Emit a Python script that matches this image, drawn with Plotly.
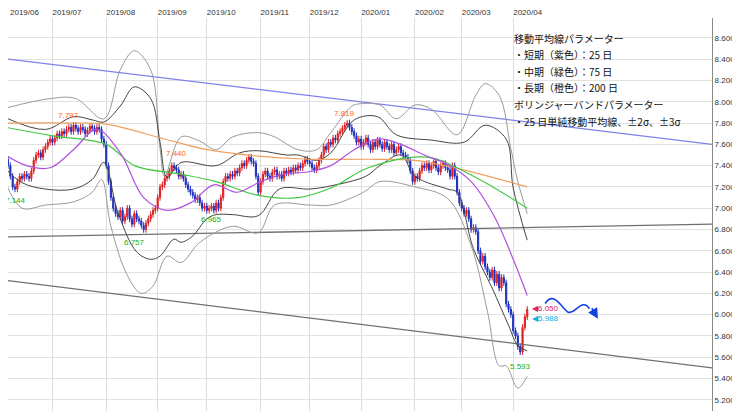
import pandas as pd
import plotly.graph_objects as go

# daily closes (one list per month)
close_jun = [7.46, 7.40, 7.30, 7.20, 7.18, 7.25, 7.30, 7.28, 7.32, 7.30, 7.28, 7.35, 7.45, 7.50, 7.52, 7.48, 7.55, 7.58, 7.62, 7.65]
close_jul = [7.62, 7.66, 7.70, 7.68, 7.72, 7.70, 7.74, 7.76, 7.72, 7.78, 7.75, 7.72, 7.76, 7.74, 7.70, 7.73, 7.77, 7.75, 7.72, 7.76, 7.74, 7.65, 7.60]
close_aug = [7.40, 7.25, 7.10, 7.00, 6.95, 6.92, 6.98, 6.88, 6.92, 7.00, 6.90, 6.85, 6.95, 6.90, 6.88, 6.84, 6.80, 6.86, 6.90, 6.94, 6.98, 7.00]
close_sep = [7.10, 7.20, 7.22, 7.28, 7.30, 7.35, 7.40, 7.38, 7.36, 7.30, 7.32, 7.28, 7.22, 7.18, 7.15, 7.12, 7.08, 7.10, 7.05, 7.00, 7.02]
close_oct = [6.98, 7.00, 7.02, 6.98, 7.05, 7.00, 7.10, 7.25, 7.30, 7.28, 7.32, 7.30, 7.35, 7.33, 7.38, 7.42, 7.40, 7.45, 7.48, 7.44, 7.42, 7.30, 7.15]
close_nov = [7.25, 7.32, 7.35, 7.30, 7.28, 7.34, 7.36, 7.30, 7.32, 7.28, 7.35, 7.33, 7.36, 7.34, 7.38, 7.36, 7.40, 7.38, 7.42, 7.46, 7.44]
close_dec = [7.42, 7.38, 7.36, 7.40, 7.45, 7.50, 7.58, 7.55, 7.62, 7.60, 7.66, 7.64, 7.70, 7.72, 7.75, 7.78, 7.80, 7.76, 7.72, 7.68, 7.62, 7.65]
close_jan = [7.58, 7.62, 7.66, 7.60, 7.55, 7.62, 7.58, 7.64, 7.60, 7.56, 7.62, 7.58, 7.55, 7.60, 7.52, 7.55, 7.58, 7.52, 7.50, 7.48, 7.45, 7.35, 7.25]
close_feb = [7.30, 7.28, 7.35, 7.40, 7.38, 7.42, 7.36, 7.40, 7.44, 7.38, 7.34, 7.40, 7.42, 7.38, 7.36, 7.30, 7.40, 7.30, 7.15, 7.05]
close_mar = [7.00, 6.95, 6.98, 6.90, 6.80, 6.82, 6.78, 6.60, 6.50, 6.55, 6.45, 6.40, 6.35, 6.42, 6.30, 6.38, 6.25, 6.35, 6.30, 6.10, 6.05, 6.00]
close_apr = [5.85, 5.80, 5.70, 5.65, 5.88, 5.98, 6.05]

# moving averages and bands (date, value)
ma25_dates = ["2019-06-03", "2019-06-14", "2019-06-28", "2019-07-12", "2019-07-26", "2019-08-09", "2019-08-23", "2019-09-06", "2019-09-20", "2019-10-04", "2019-10-18", "2019-11-01", "2019-11-15", "2019-11-29", "2019-12-13", "2019-12-27", "2020-01-10", "2020-01-24", "2020-02-07", "2020-02-21", "2020-03-06", "2020-03-20", "2020-04-01", "2020-04-09"]
ma25_vals = [7.50, 7.40, 7.38, 7.55, 7.74, 7.52, 7.10, 6.98, 7.05, 7.22, 7.15, 7.25, 7.32, 7.34, 7.40, 7.55, 7.65, 7.60, 7.50, 7.41, 7.25, 6.92, 6.52, 6.18]
ma75_dates = ["2019-06-03", "2019-07-01", "2019-08-01", "2019-08-19", "2019-09-16", "2019-10-07", "2019-10-31", "2019-11-25", "2019-12-16", "2020-01-06", "2020-02-10", "2020-03-09", "2020-04-09"]
ma75_vals = [7.76, 7.68, 7.60, 7.40, 7.32, 7.25, 7.12, 7.10, 7.20, 7.38, 7.48, 7.30, 7.00]
ma200_dates = ["2019-06-03", "2019-07-15", "2019-08-01", "2019-09-05", "2019-10-01", "2019-10-31", "2019-12-02", "2020-01-06", "2020-02-03", "2020-02-24", "2020-04-09"]
ma200_vals = [7.80, 7.80, 7.79, 7.65, 7.55, 7.49, 7.46, 7.46, 7.45, 7.39, 7.20]

up3_dates = ["2019-06-03", "2019-06-28", "2019-07-15", "2019-07-31", "2019-08-09", "2019-08-19", "2019-08-28", "2019-09-03", "2019-09-05", "2019-09-16", "2019-09-26", "2019-10-07", "2019-10-16", "2019-10-31", "2019-11-11", "2019-11-25", "2019-12-05", "2019-12-13", "2019-12-26", "2019-12-31", "2020-01-13", "2020-01-22", "2020-02-03", "2020-02-12", "2020-02-27", "2020-03-10", "2020-03-16", "2020-03-24", "2020-03-31", "2020-04-03", "2020-04-09"]
up3_vals = [7.94, 8.03, 8.03, 7.84, 8.30, 8.48, 8.30, 7.56, 7.30, 7.67, 7.63, 7.55, 7.67, 7.71, 7.67, 7.55, 7.55, 7.71, 7.96, 7.98, 7.97, 7.84, 7.97, 7.93, 7.69, 8.06, 8.17, 8.06, 7.56, 7.25, 6.95]
up2_dates = ["2019-06-03", "2019-06-26", "2019-07-12", "2019-07-24", "2019-07-31", "2019-08-09", "2019-08-19", "2019-08-28", "2019-09-03", "2019-09-06", "2019-09-16", "2019-10-07", "2019-10-21", "2019-10-31", "2019-11-18", "2019-11-25", "2019-12-05", "2019-12-13", "2019-12-27", "2020-01-10", "2020-01-22", "2020-02-12", "2020-03-03", "2020-03-16", "2020-03-27", "2020-04-01", "2020-04-09"]
up2_vals = [7.85, 7.74, 7.86, 7.83, 7.81, 7.96, 8.14, 8.03, 7.62, 7.29, 7.43, 7.40, 7.52, 7.54, 7.50, 7.50, 7.45, 7.52, 7.83, 7.86, 7.69, 7.64, 7.62, 7.78, 7.65, 7.19, 6.70]
lo2_dates = ["2019-06-03", "2019-06-12", "2019-06-26", "2019-07-12", "2019-07-24", "2019-07-31", "2019-08-08", "2019-08-20", "2019-08-28", "2019-09-03", "2019-09-11", "2019-09-16", "2019-09-23", "2019-10-01", "2019-10-07", "2019-10-16", "2019-10-31", "2019-11-13", "2019-12-02", "2019-12-13", "2020-01-03", "2020-01-13", "2020-01-24", "2020-02-03", "2020-02-21", "2020-02-27", "2020-03-09", "2020-03-19", "2020-03-30", "2020-04-03", "2020-04-09"]
lo2_vals = [7.37, 7.24, 7.18, 7.18, 7.27, 7.43, 6.96, 6.59, 6.52, 6.55, 6.71, 6.68, 6.74, 6.90, 6.94, 6.94, 6.93, 7.18, 7.18, 7.21, 7.30, 7.40, 7.50, 7.30, 7.18, 7.15, 6.62, 6.25, 5.90, 5.71, 5.66]
lo3_dates = ["2019-06-03", "2019-06-12", "2019-06-26", "2019-07-12", "2019-07-24", "2019-07-30", "2019-08-05", "2019-08-14", "2019-08-22", "2019-08-29", "2019-09-06", "2019-09-16", "2019-09-26", "2019-10-16", "2019-10-31", "2019-11-11", "2019-12-02", "2019-12-13", "2020-01-02", "2020-01-13", "2020-02-03", "2020-02-21", "2020-03-06", "2020-03-17", "2020-03-24", "2020-03-27", "2020-04-03", "2020-04-09"]
lo3_vals = [7.24, 7.00, 7.03, 7.06, 7.15, 7.27, 6.83, 6.37, 6.20, 6.27, 6.55, 6.49, 6.68, 6.83, 6.77, 7.03, 7.03, 7.03, 7.15, 7.25, 7.20, 7.09, 6.65, 6.03, 5.52, 5.52, 5.31, 5.42]

# trendlines (start/end on the visible range)
trend_dates = ["2019-06-04", "2020-07-29"]
trend_blue = [8.40, 7.60]
trend_mid = [6.73, 6.85]
trend_low = [6.32, 5.50]

# high/low markers
mark_dates = ["2019-06-07", "2019-07-10", "2019-08-19", "2019-09-12", "2019-10-03", "2019-12-23", "2020-04-06"]
mark_vals = [7.144, 7.797, 6.757, 7.440, 6.965, 7.819, 5.593]
mark_text = ["7.144", "7.797", "6.757", "7.440", "6.965", "7.819", "5.593"]

ytick_vals = [8.6, 8.4, 8.2, 8.0, 7.8, 7.6, 7.4, 7.2, 7.0, 6.8, 6.6, 6.4, 6.2, 6.0, 5.8, 5.6, 5.4, 5.2]
month_ticks = ["2019-07-01", "2019-08-01", "2019-09-02", "2019-10-01", "2019-11-01", "2019-12-02", "2020-01-01", "2020-02-03", "2020-03-02", "2020-04-01"]
month_text = ["2019/07", "2019/08", "2019/09", "2019/10", "2019/11", "2019/12", "2020/01", "2020/02", "2020/03", "2020/04"]
first_month_text = "2019/06"

legend_lines = ["移動平均線パラメーター", "・短期（紫色）：25 日", "・中期（緑色）：75 日", "・長期（橙色）：200 日",
                "ボリンジャーバンドパラメーター", "・25 日単純移動平均線、±2σ、±3σ"]

closes = close_jun + close_jul + close_aug + close_sep + close_oct + close_nov + close_dec + close_jan + close_feb + close_mar + close_apr
dates = pd.bdate_range("2019-06-03", periods=len(closes))
opens = [closes[0] + 0.05] + closes[:-1]
highs = [max(o, c) + 0.03 for o, c in zip(opens, closes)]
lows = [min(o, c) - 0.03 for o, c in zip(opens, closes)]

fig = go.Figure()

for d, v, col, w in [(trend_dates, trend_blue, "#8080ee", 1.3), (trend_dates, trend_mid, "#707070", 1.3),
                     (trend_dates, trend_low, "#707070", 1.3),
                     (up3_dates, up3_vals, "#9a9a9a", 1), (lo3_dates, lo3_vals, "#9a9a9a", 1),
                     (up2_dates, up2_vals, "#444444", 1), (lo2_dates, lo2_vals, "#444444", 1),
                     (ma200_dates, ma200_vals, "#f0a060", 1.2), (ma75_dates, ma75_vals, "#40c840", 1.2),
                     (ma25_dates, ma25_vals, "#b050e0", 1.2)]:
    fig.add_trace(go.Scatter(x=d, y=v, mode="lines", line=dict(color=col, width=w, shape="spline"),
                             hoverinfo="skip"))

fig.add_trace(go.Candlestick(
    x=dates, open=opens, high=highs, low=lows, close=closes,
    increasing=dict(line=dict(color="#e02020", width=1), fillcolor="#e02020"),
    decreasing=dict(line=dict(color="#2030c0", width=1), fillcolor="#2030c0"),
    whiskerwidth=0,
))

for d, v, t in zip(mark_dates, mark_vals, mark_text):
    is_high = t in ("7.797", "7.440", "7.819")
    fig.add_annotation(x=d, y=v, text=t, showarrow=False, yshift=8 if is_high else -8,
                       font=dict(size=8, color="#ff6a00" if is_high else "#10b010"))

fig.add_annotation(x="2020-04-09", y=6.05, text="◀6.050", showarrow=False, xanchor="left", xshift=3, yshift=1,
                   font=dict(size=8, color="#e0206a"))
fig.add_annotation(x="2020-04-09", y=5.988, text="◀5.988", showarrow=False, xanchor="left", xshift=3, yshift=-3,
                   font=dict(size=8, color="#10b0e0"))

# first month label sits just left of the visible range
fig.add_annotation(xref="paper", yref="paper", x=0, y=1, xanchor="left", yanchor="bottom", yshift=-1,
                   showarrow=False, text=first_month_text, font=dict(size=8, color="#333333"))

# wavy arrow
fig.add_shape(type="path", xref="paper", yref="paper",
              path="M 0.763 0.288 C 0.775 0.32, 0.785 0.28, 0.795 0.267 C 0.805 0.257, 0.815 0.305, 0.826 0.275",
              line=dict(color="#1040e0", width=1.6))
fig.add_annotation(xref="paper", yref="paper", x=0.838, y=0.25, ax=-7, ay=-12, showarrow=True,
                   arrowhead=2, arrowsize=1.3, arrowwidth=1.6, arrowcolor="#1040e0", text="")

for i, line in enumerate(legend_lines):
    fig.add_annotation(xref="paper", yref="paper", x=0.716, y=0.95 - i * 0.0415, xanchor="left", yanchor="middle",
                       showarrow=False, text=line,
                       font=dict(size=10, color="#111111", family="Noto Sans CJK JP"))

fig.update_layout(
    width=740, height=411, margin=dict(l=0, r=36, t=8, b=0),
    plot_bgcolor="white", paper_bgcolor="white", showlegend=False,
    font=dict(family="Arial, Liberation Sans", size=8, color="#333333"),
)
fig.update_xaxes(
    side="top", range=["2019-06-04", "2020-07-29"], rangeslider_visible=False,
    rangebreaks=[dict(bounds=["sat", "mon"])],
    tickvals=month_ticks, ticktext=month_text, ticklabelposition="outside right",
    showgrid=True, gridcolor="#dddddd", gridwidth=1, ticks="", showline=False,
)
fig.update_yaxes(
    side="right", range=[5.02, 8.787], tickvals=ytick_vals, tickformat=".3f",
    showgrid=True, gridcolor="#e2e2e2", showline=True, linecolor="#888888", mirror=False,
    ticks="", zeroline=False,
)

fig.write_html("out.html")
